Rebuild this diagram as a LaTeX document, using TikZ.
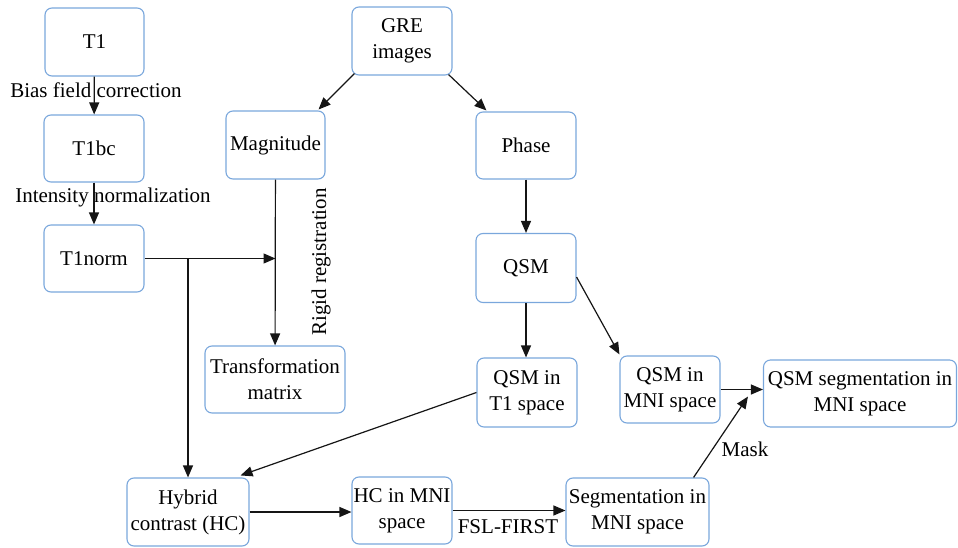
\documentclass[tikz,border=0pt]{standalone}
\usepackage{fontspec}
\setmainfont{Liberation Serif}
\usetikzlibrary{arrows.meta}
\definecolor{boxblue}{HTML}{7AA7DC}
\definecolor{linegray}{HTML}{151515}
\tikzset{
  box/.style={draw=boxblue, line width=1.1pt, rounded corners=7pt, align=center, inner sep=0pt, font=\fontsize{21}{26}\selectfont, text=black},
  arr/.style={draw=linegray, line width=1.2pt, -{Triangle[length=12pt,width=10pt]}},
  lbl/.style={font=\fontsize{21}{26}\selectfont, inner sep=0pt, text=black}
}
\begin{document}
\begin{tikzpicture}[x=1pt,y=-1pt]
\useasboundingbox (0,0) rectangle (958,548);
% boxes
\node[box, minimum width=99pt, minimum height=68pt] (t1) at (94.5,42) {T1};
\node[box, minimum width=100pt, minimum height=67pt] (t1bc) at (94,148.5) {T1bc};
\node[box, minimum width=100pt, minimum height=67pt] (t1norm) at (94,258.5) {T1norm};
\node[box, minimum width=99pt, minimum height=68pt] (mag) at (275.5,145) {Magnitude};
\node[box, minimum width=100pt, minimum height=68pt] (gre) at (402,41) {GRE\\images};
\node[box, minimum width=100pt, minimum height=67pt] (phase) at (526,145.5) {Phase};
\node[box, minimum width=100pt, minimum height=69pt] (qsm) at (526,268) {QSM};
\node[box, minimum width=100pt, minimum height=69pt] (qsmt1) at (527,392.5) {QSM in\\T1 space};
\node[box, minimum width=100pt, minimum height=67pt] (qsmmni) at (670,389.5) {QSM in\\MNI space};
\node[box, minimum width=193pt, minimum height=67pt] (qsmseg) at (860,393.5) {QSM segmentation in\\MNI space};
\node[box, minimum width=143pt, minimum height=68pt] (seg) at (637.5,512) {Segmentation in\\MNI space};
\node[box, minimum width=100pt, minimum height=67pt] (hcmni) at (402,510.5) {HC in MNI\\space};
\node[box, minimum width=140pt, minimum height=67pt] (tm) at (275,379.5) {Transformation\\matrix};
\node[box, minimum width=122pt, minimum height=68pt] (hc) at (188,512) {Hybrid\\contrast (HC)};
% left chain
\draw[arr] (t1) -- (t1bc);
\node[lbl] (lbf) at (96,90) {Bias field correction};
\draw[arr] (t1bc) -- (t1norm);
\node[lbl] (lin) at (113,197) {Intensity normalization};
% registration
\coordinate (reg) at (mag.south |- t1norm.east);
\coordinate (br) at (hc.north |- t1norm.east);
\draw[arr] (t1norm.east) -- (reg);
\draw[arr] (br) -- (hc.north);
\draw[arr] (mag) -- (tm);
\node[lbl, rotate=90] (rr) at (321,262) {Rigid registration};
% GRE branches
\draw[arr] ([shift={(3,-2)}]gre.south west) -- ([shift={(-7,-1)}]mag.north east);
\draw[arr] ([shift={(-4,-1)}]gre.south east) -- ([shift={(11,-1)}]phase.north west);
\draw[arr] (phase) -- (qsm);
\draw[arr] (qsm.south) -- (qsm.south |- qsmt1.north);
\draw[arr] ([shift={(0,9)}]qsm.east) -- ([shift={(0,-1)}]qsmmni.north west);
\draw[arr] (qsmt1.west) -- ([shift={(-9,-2)}]hc.north east);
% bottom row
\draw[arr] (hc.east) -- (hc.east -| hcmni.west);
\draw[arr] (hcmni.east) -- (hcmni.east -| seg.west);
\node[lbl] (fsl) at (508,527) {FSL-FIRST};
\draw[arr] (qsmmni.east) -- (qsmmni.east -| qsmseg.west);
\draw[arr] ([shift={(-16,0)}]seg.north east) -- ([shift={(-15,-31)}]qsmseg.south west);
\node[lbl] (mask) at (745,449) {Mask};
\end{tikzpicture}
\end{document}
